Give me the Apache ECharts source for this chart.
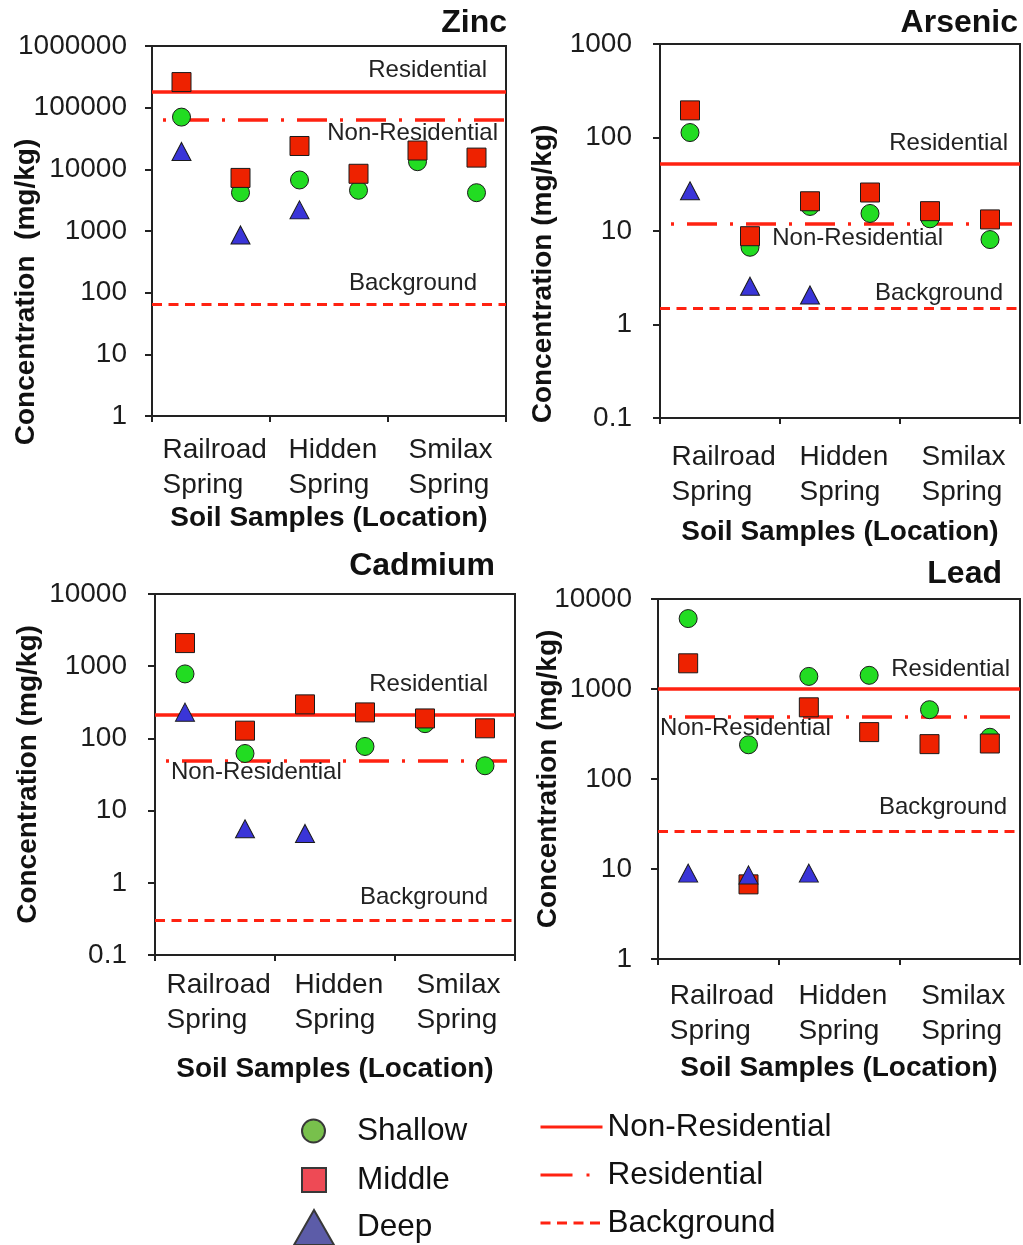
<!DOCTYPE html>
<html>
<head>
<meta charset="utf-8">
<title>Soil sample concentrations</title>
<script src="https://cdn.jsdelivr.net/npm/echarts@6/dist/echarts.min.js"></script>
<style>
  html, body { margin: 0; padding: 0; background: #ffffff; }
  #chart { width: 1023px; height: 1245px; }
</style>
</head>
<body>
<div id="chart"></div>
<script>
// ---- data -------------------------------------------------------------
const locations = ['Railroad\nSpring', 'Hidden\nSpring', 'Smilax\nSpring'];
// six sampling points, two per location (mg/kg); null = not sampled
const zincShallow = [70300, 4180, 6720, 4570, 13300, 4180];
const zincMiddle  = [260000, 7260, 23900, 8470, 20200, 15500];
const zincDeep    = [19500, 863, 2200, null, null, null];
const zincLimits  = [184000, 64200, 65];          // solid, dash-dot, dashed

const arsenicShallow = [113, 6.7, 18.3, 15.4, 13.5, 8.1];
const arsenicMiddle  = [195, 8.8, 20.8, 25.8, 16.3, 13.3];
const arsenicDeep    = [26.9, 2.57, 2.07, null, null, null];
const arsenicLimits  = [52.6, 11.9, 1.48];

const cadmiumShallow = [782, 61.8, null, 77.3, 160, 41.8];
const cadmiumMiddle  = [2090, 128, 296, 229, 189, 138];
const cadmiumDeep    = [231, 5.6, 4.83, null, null, null];
const cadmiumLimits  = [215, 49.5, 0.305];

const leadShallow = [6060, 240, 1380, 1419, 589, 291];
const leadMiddle  = [1930, 6.75, 626, 332, 244, 248];
const leadDeep    = [9.0, 8.6, 9.0, null, null, null];
const leadLimits  = [1000, 494, 26.6];

const yTicksZinc    = [1, 1000000];
const yTicksArsenic = [0.1, 1000];
const yTicksCadmium = [0.1, 10000];
const yTicksLead    = [1, 10000];

const depthNames  = ['Shallow', 'Middle', 'Deep'];
const limitNames  = ['Non-Residential', 'Residential', 'Background'];   // legend entries
const limitLabels = ['Residential', 'Non-Residential', 'Background'];   // text along the lines

// ---- styles -----------------------------------------------------------
const FONT = '"Liberation Sans", Arial, Helvetica, sans-serif';
const TEXT = '#1c1c1c';
const LINE_RED = '#ff2211';
const DASH_DOT = [30, 13, 3, 13];
const limitStyles = [
  { color: LINE_RED, width: 3.5, type: 'solid' },
  { color: LINE_RED, width: 3.5, type: DASH_DOT, dashOffset: 32 },
  { color: LINE_RED, width: 3, type: [10, 6.5] }
];
const markerStyles = [
  { symbol: 'circle',   size: 18,       color: '#22dc22' },
  { symbol: 'rect',     size: 19,       color: '#ee2200' },
  { symbol: 'triangle', size: [19, 18], color: '#3a35d8' }
];

const panels = [
  { title: 'Zinc', values: [zincShallow, zincMiddle, zincDeep], limits: zincLimits, range: yTicksZinc,
    yName: 'Concentration  (mg/kg)',
    grid: { left: 152, top: 46, width: 354, height: 370 },
    titlePos: { right: 516, top: 7 },
    yLabelMargin: 25, yNameGap: 112, yNameShift: 61, xLabelMargin: 17, xNameGap: 88,
    limitLabelPos: [
      { position: 'insideEndTop', distance: [19, 9] },
      { position: 'insideEndBottom', distance: [8, 2] },
      { position: 'insideEndTop', distance: [29, 9] }
    ] },
  { title: 'Arsenic', values: [arsenicShallow, arsenicMiddle, arsenicDeep], limits: arsenicLimits, range: yTicksArsenic,
    yName: 'Concentration (mg/kg)',
    grid: { left: 660, top: 44, width: 360, height: 374 },
    titlePos: { right: 5, top: 7 },
    yLabelMargin: 28, yNameGap: 103, yNameShift: 43, xLabelMargin: 22, xNameGap: 100,
    limitLabelPos: [
      { position: 'insideEndTop', distance: [12, 8] },
      { position: 'insideEndBottom', distance: [77, 2] },
      { position: 'insideEndTop', distance: [17, 3] }
    ] },
  { title: 'Cadmium', values: [cadmiumShallow, cadmiumMiddle, cadmiumDeep], limits: cadmiumLimits, range: yTicksCadmium,
    yName: 'Concentration (mg/kg)',
    grid: { left: 155, top: 594, width: 360, height: 361 },
    titlePos: { right: 528, top: 550 },
    yLabelMargin: 28, yNameGap: 113, yNameShift: 0, xLabelMargin: 13, xNameGap: 100,
    limitLabelPos: [
      { position: 'insideEndTop', distance: [27, 18] },
      { position: 'insideStartBottom', distance: [16, 0] },
      { position: 'insideEndTop', distance: [27, 11] }
    ] },
  { title: 'Lead', values: [leadShallow, leadMiddle, leadDeep], limits: leadLimits, range: yTicksLead,
    yName: 'Concentration (mg/kg)',
    grid: { left: 658, top: 599, width: 362, height: 360 },
    titlePos: { right: 21, top: 558 },
    yLabelMargin: 26, yNameGap: 96, yNameShift: 0, xLabelMargin: 20, xNameGap: 95,
    limitLabelPos: [
      { position: 'insideEndTop', distance: [10, 8] },
      { position: 'insideStartBottom', distance: [2, 0] },
      { position: 'insideEndTop', distance: [13, 11] }
    ] }
];

// ---- location labels: two lines, left-aligned, block centred on its band ----
const LABEL_SIZE = 28;
const LABEL_LINE = 35;
const measureCtx = document.createElement('canvas').getContext('2d');
measureCtx.font = LABEL_SIZE + 'px ' + FONT;
const locationRich = {};
locations.forEach((loc, i) => {
  const w = Math.max(...loc.split('\n').map(s => measureCtx.measureText(s).width));
  locationRich['loc' + i] = {
    width: Math.ceil(w), align: 'left', fontSize: LABEL_SIZE, fontFamily: FONT,
    color: TEXT, lineHeight: LABEL_LINE
  };
});
function locationFormatter(value, index) {
  return value.split('\n').map(s => '{loc' + index + '|' + s + '}').join('\n');
}
function tickFormatter(v) {
  return String(Number(v.toPrecision(6)));
}

// ---- build option -------------------------------------------------------
const grids = [], xAxes = [], yAxes = [], titles = [], series = [];

panels.forEach((p, pi) => {
  grids.push(Object.assign({
    show: true, borderColor: '#222', borderWidth: 2, backgroundColor: 'transparent',
    containLabel: false, outerBoundsMode: 'none'
  }, p.grid));

  titles.push(Object.assign({
    text: p.title, padding: 0,
    textStyle: { fontSize: 32, fontWeight: 'bold', fontFamily: FONT, color: '#111' }
  }, p.titlePos));

  // location axis (labels and group ticks)
  xAxes.push({
    type: 'category', gridIndex: pi, data: locations, boundaryGap: true,
    axisLine: { show: true, lineStyle: { color: '#222', width: 2 } },
    axisTick: { show: true, length: 6, inside: false, lineStyle: { color: '#222', width: 2 } },
    axisLabel: { interval: 0, margin: p.xLabelMargin, formatter: locationFormatter, rich: locationRich,
                 padding: [0, 0, 0, 8],
                 fontSize: LABEL_SIZE, fontFamily: FONT, color: TEXT, lineHeight: LABEL_LINE },
    name: 'Soil Samples (Location)', nameLocation: 'middle', nameGap: p.xNameGap,
    nameMoveOverlap: false,
    nameTextStyle: { fontSize: 28, fontWeight: 'bold', fontFamily: FONT, color: '#111' },
    splitLine: { show: false }
  });
  // sample-point axis (one unit per sampling point)
  xAxes.push({ type: 'value', gridIndex: pi, min: 0, max: 6, show: false });

  yAxes.push({
    type: 'log', logBase: 10, gridIndex: pi, min: p.range[0], max: p.range[1],
    axisLine: { show: true, lineStyle: { color: '#222', width: 2 } },
    axisTick: { show: true, length: 7, inside: false, lineStyle: { color: '#222', width: 2 } },
    minorTick: { show: false },
    splitLine: { show: false },
    axisLabel: { margin: p.yLabelMargin, formatter: tickFormatter, fontSize: 28, fontFamily: FONT, color: TEXT },
    name: p.yName, nameLocation: 'middle', nameGap: p.yNameGap, nameMoveOverlap: false,
    nameTextStyle: { fontSize: 28, fontWeight: 'bold', fontFamily: FONT, color: '#111',
                     padding: [0, p.yNameShift * 2, 0, 0] }
  });

  // reference concentration lines
  p.limits.forEach((lim, k) => {
    series.push({
      type: 'line', name: limitNames[k], xAxisIndex: pi * 2 + 1, yAxisIndex: pi,
      data: [], symbol: 'none', showSymbol: false, lineStyle: limitStyles[k], z: 1,
      itemStyle: { color: LINE_RED },
      markLine: {
        silent: true, symbol: 'none', z: 1,
        lineStyle: limitStyles[k],
        label: {
          show: true, formatter: limitLabels[k],
          position: p.limitLabelPos[k].position, distance: p.limitLabelPos[k].distance,
          fontSize: 24, fontFamily: FONT, color: '#222'
        },
        emphasis: { disabled: true },
        data: [{ yAxis: lim }]
      }
    });
  });

  // sample markers
  p.values.forEach((vals, d) => {
    const m = markerStyles[d];
    series.push({
      type: 'scatter', name: depthNames[d], xAxisIndex: pi * 2 + 1, yAxisIndex: pi, z: 3,
      symbol: m.symbol, symbolSize: m.size,
      itemStyle: { color: m.color, borderColor: '#1a1a1a', borderWidth: 1, opacity: 1 },
      emphasis: { disabled: true },
      data: vals.map((v, i) => [i + 0.5, v]).filter(pt => pt[1] !== null)
    });
  });
});

// ---- legend: one component per entry -------------------------------------
const legendText = { fontSize: 31.5, fontFamily: FONT, color: '#111' };
const depthLegendColors = ['#78c04c', '#ee4a55', '#5c5ca8'];
const depthLegendIcons = ['circle', 'rect', 'triangle'];
const depthLegendLayout = [
  { left: 301, top: 1115, itemWidth: 23, itemHeight: 23, textPad: 27 },
  { left: 301, top: 1164, itemWidth: 24, itemHeight: 24, textPad: 26 },
  { left: 293, top: 1209, itemWidth: 40, itemHeight: 35, textPad: 18 }
];
const limitLegendLayout = [
  { left: 539, top: 1111 },
  { left: 539, top: 1159 },
  { left: 539, top: 1207 }
];
const legendLineTypes = ['solid', [32, 14, 3, 13], [10, 6.5]];
const legends = [];
depthNames.forEach((n, i) => {
  const L = depthLegendLayout[i];
  legends.push({
    orient: 'vertical', padding: 0, selectedMode: false,
    left: L.left, top: L.top, itemWidth: L.itemWidth, itemHeight: L.itemHeight,
    textStyle: Object.assign({ padding: [0, 0, 0, L.textPad] }, legendText),
    data: [{ name: n, icon: depthLegendIcons[i],
             itemStyle: { color: depthLegendColors[i], borderColor: '#383838', borderWidth: 2 } }]
  });
});
limitNames.forEach((n, i) => {
  legends.push(Object.assign({
    orient: 'vertical', padding: 0, itemWidth: 62, itemHeight: 14, selectedMode: false,
    textStyle: legendText,
    data: [{ name: n,
             itemStyle: { color: 'transparent', borderColor: 'transparent', borderWidth: 0, opacity: 0 },
             lineStyle: { color: LINE_RED, width: 3, type: legendLineTypes[i], dashOffset: 0 } }]
  }, limitLegendLayout[i]));
});

const chart = echarts.init(document.getElementById('chart'), null, { renderer: 'canvas' });
chart.setOption({
  backgroundColor: '#ffffff',
  animation: false,
  textStyle: { fontFamily: FONT },
  title: titles,
  grid: grids,
  xAxis: xAxes,
  yAxis: yAxes,
  legend: legends,
  series: series
});
</script>
</body>
</html>
